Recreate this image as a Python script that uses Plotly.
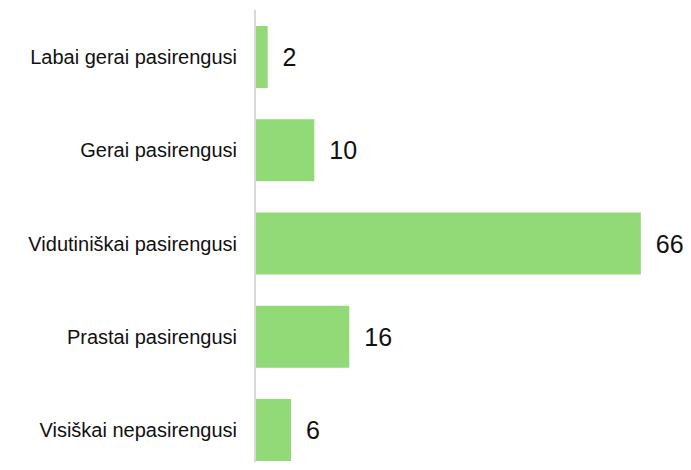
import plotly.graph_objects as go

categories = [
    'Labai gerai pasirengusi',
    'Gerai pasirengusi',
    'Vidutiniškai pasirengusi',
    'Prastai pasirengusi',
    'Visiškai nepasirengusi',
]
values = [2, 10, 66, 16, 6]

BAR_COLOR = '#92D977'
FONT = 'Liberation Sans, Arial, sans-serif'

# page body has an 8px margin, so keep the figure inside the window
fig = go.Figure(go.Bar(
    x=values,
    y=categories,
    orientation='h',
    marker=dict(color=BAR_COLOR, line=dict(width=0)),
    width=0.665,
    text=[f' \u2009{v}' for v in values],
    textposition='outside',
    textfont=dict(family=FONT, size=25, color='#111111'),
    cliponaxis=False,
))

fig.update_layout(
    width=683,
    height=454,
    margin=dict(l=248, r=0, t=2, b=0, autoexpand=False),
    paper_bgcolor='white',
    plot_bgcolor='white',
    showlegend=False,
    font=dict(family=FONT, color='#111111'),
)
fig.update_xaxes(
    range=[0, 74.6],
    visible=False,
)
fig.update_yaxes(
    categoryorder='array',
    categoryarray=categories,
    range=[4.343, -0.504],
    showline=True,
    linecolor='#D9D9D9',
    linewidth=2,
    showgrid=False,
    ticks='',
    ticklabelstandoff=13,
    tickfont=dict(family=FONT, size=20, color='#111111'),
)

fig.write_html('out.html')
